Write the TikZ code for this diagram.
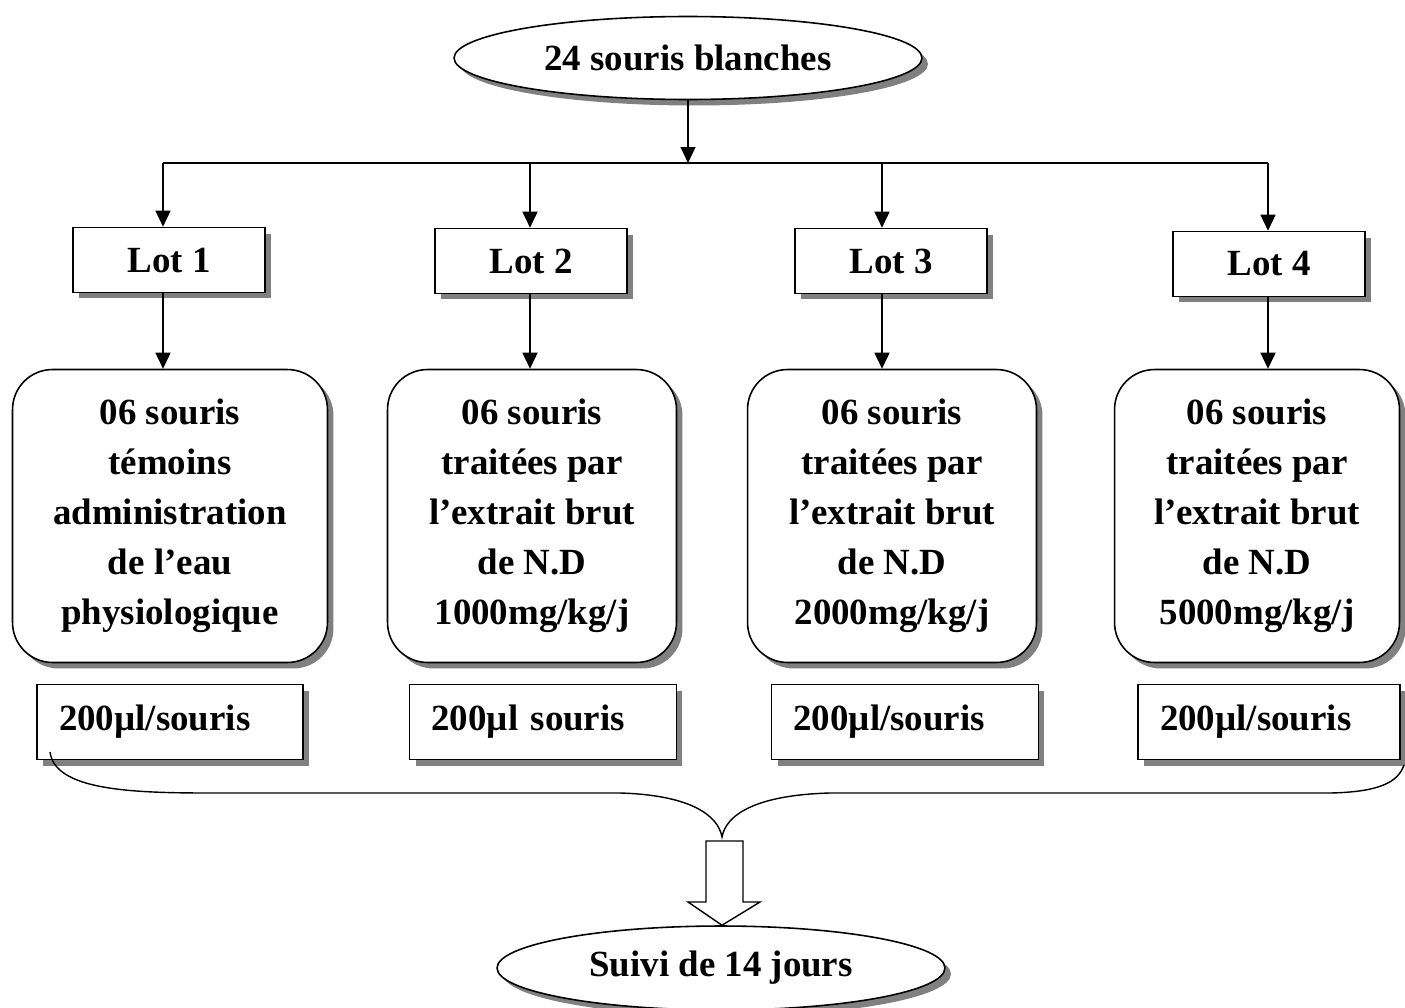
\documentclass[tikz,border=0pt]{standalone}
\usepackage{fontspec}
\setmainfont{Liberation Serif}
\usepackage{tikz}
\usetikzlibrary{arrows.meta,shapes.geometric,shadows}

\begin{document}
\begin{tikzpicture}[
      x=0.02cm, y=-0.02cm,
      shade/.style={drop shadow={shadow xshift=0.12cm, shadow yshift=-0.12cm, fill=black!50, opacity=1}},
      oval/.style={ellipse, draw, fill=white, shade, line width=0.9pt, inner sep=0pt, minimum height=1.66cm, font=\fontsize{21}{28.5}\selectfont\bfseries},
      lotbox/.style={draw, fill=white, shade, line width=0.9pt, minimum width=3.84cm, minimum height=1.3cm, font=\fontsize{21}{28.5}\selectfont\bfseries},
      group/.style={draw, fill=white, shade, rounded corners=0.8cm, line width=0.9pt, minimum height=5.86cm, align=center, font=\fontsize{21}{28.5}\selectfont\bfseries},
      dose/.style={draw, fill=white, shade, line width=0.9pt, minimum height=1.5cm, inner xsep=0.44cm, align=left, font=\fontsize{21}{28.5}\selectfont\bfseries},
      link/.style={line width=0.8pt},
      >={Triangle[width=0.3cm,length=0.32cm]}
    ]
    \useasboundingbox (0,0) rectangle (1405,1007);

    \node[oval, minimum width=9.36cm] (souris) at (688,58) {24 souris blanches};

    \node[lotbox] (lot1) at (169,260) {Lot 1};
    \node[lotbox] (lot2) at (531,261) {Lot 2};
    \node[lotbox] (lot3) at (891,261) {Lot 3};
    \node[lotbox] (lot4) at (1269,264) {Lot 4};

    \node[group, minimum width=6.3cm] (grp1) at (170,516) {06 souris\\témoins\\administration\\de l’eau\\physiologique};
    \node[group, minimum width=5.78cm] (grp2) at (532,516) {06 souris\\traitées par\\l’extrait brut\\de N.D\\1000mg/kg/j};
    \node[group, minimum width=5.78cm] (grp3) at (892,516) {06 souris\\traitées par\\l’extrait brut\\de N.D\\2000mg/kg/j};
    \node[group, minimum width=5.7cm] (grp4) at (1257,516) {06 souris\\traitées par\\l’extrait brut\\de N.D\\5000mg/kg/j};

    \node[dose, text width=4.44cm] (dose1) at (170,722) {200µl/souris};
    \node[dose, text width=4.46cm] (dose2) at (543,722) {200µl souris};
    \node[dose, text width=4.46cm] (dose3) at (905,722) {200µl/souris};
    \node[dose, text width=4.36cm] (dose4) at (1269,722) {200µl/souris};

    \node[oval, minimum width=8.96cm, minimum height=1.68cm] (suivi) at (721,968) {Suivi de 14 jours};

    % distribution bus
    \coordinate (bus) at (688,163);
    \coordinate (b1) at (163,163);
    \coordinate (b2) at (530,163);
    \coordinate (b3) at (882,163);
    \coordinate (b4) at (1268,163);
    \draw[link, ->] (souris) -- (bus);
    \draw[link] (b1) -- (b4);
    \draw[link, ->] (b1) -- (b1 |- lot1.north);
    \draw[link, ->] (b2) -- (b2 |- lot2.north);
    \draw[link, ->] (b3) -- (b3 |- lot3.north);
    \draw[link, ->] (b4) -- (b4 |- lot4.north);

    \draw[link, ->] (b1 |- lot1.south) -- (b1 |- grp1.north);
    \draw[link, ->] (b2 |- lot2.south) -- (b2 |- grp2.north);
    \draw[link, ->] (b3 |- lot3.south) -- (b3 |- grp3.north);
    \draw[link, ->] (b4 |- lot4.south) -- (b4 |- grp4.north);

    % brace and hollow arrow
    \coordinate (bl) at (50,752);
    \coordinate (tip) at (722,837);
    \coordinate (br) at (1404,765);
    \draw[link] (bl) .. controls (55,790) and (130,793) .. (210,793) -- (620,793)
      .. controls (690,795) and (718,815) .. (tip)
      .. controls (726,815) and (755,795) .. (830,793) -- (1330,793)
      .. controls (1380,792) and (1398,782) .. (br);
    \draw[link, fill=white] (706,841) -- (743,841) -- (743,902) -- (760,902)
      -- (suivi.north -| tip) -- (688,902) -- (706,902) -- cycle;
  \end{tikzpicture}
\end{document}
